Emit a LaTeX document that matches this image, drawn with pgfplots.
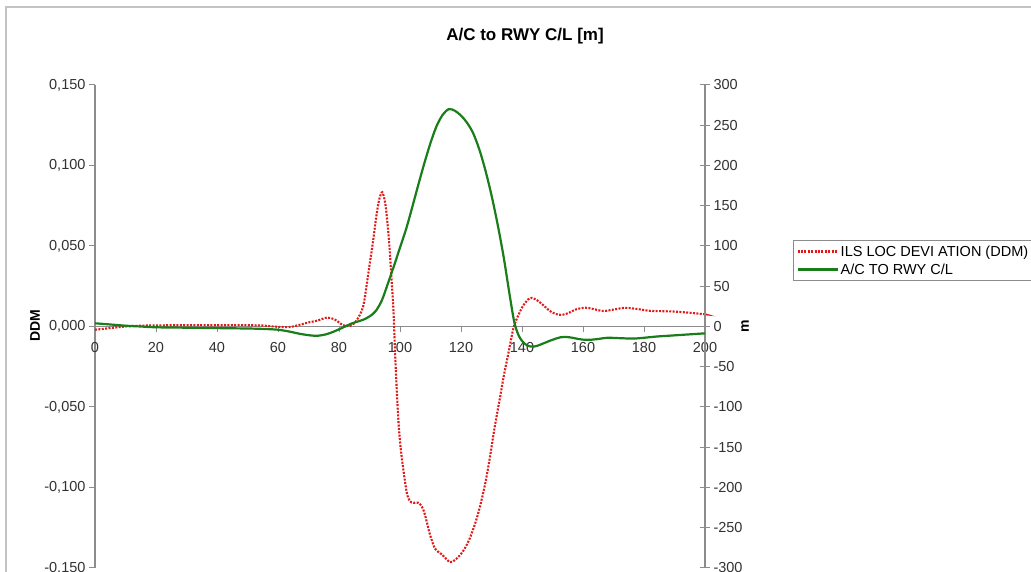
\documentclass[border=0pt]{standalone}
\usepackage{fontspec}
\setmainfont{Liberation Sans}
\usepackage{pgfplots}
\pgfplotsset{compat=1.18}
\definecolor{myred}{RGB}{225,25,25}
\definecolor{mygreen}{RGB}{25,125,25}
\definecolor{axgray}{RGB}{140,140,140}
\definecolor{framegray}{RGB}{195,195,195}
\definecolor{txt}{RGB}{50,50,50}
\begin{document}
\begin{tikzpicture}[x=1pt,y=1pt]
\useasboundingbox (0,0) rectangle (1031,572);
\clip (0,0) rectangle (1031,572);
\draw[framegray, line width=1.5pt] (6,-10) -- (6,565) -- (1040,565);
\node[font=\fontsize{17}{20}\selectfont\bfseries, text=black] at (525,536) {A/C to RWY C/L [m]};
\node[rotate=90, font=\fontsize{14}{16}\selectfont\bfseries, text=black] at (35,246) {DDM};
\node[rotate=90, font=\fontsize{14}{16}\selectfont\bfseries, text=black] at (745,246) {m};

\begin{axis}[
  at={(95pt,4pt)}, anchor=south west,
  width=610pt, height=483pt, scale only axis,
  xmin=0, xmax=200, ymin=-0.15, ymax=0.15,
  axis x line=middle, axis y line=left,
  axis line style={axgray, line width=1.2pt, -},
  hide obscured x ticks=false,
  xtick={0,20,40,60,80,100,120,140,160,180,200},
  ytick={-0.15,-0.1,-0.05,0,0.05,0.1,0.15},
  tick align=outside,
  major tick length=6pt,
  every tick/.style={axgray, line width=1pt},
  tick label style={font=\fontsize{14.5}{17}\selectfont, text=txt},
  /pgf/number format/assume math mode=true,
  yticklabel style={/pgf/number format/.cd, fixed, fixed zerofill, precision=3, use comma},
  xticklabel style={yshift=-6pt, /pgf/number format/.cd, 1000 sep={}},
  clip=false,
]
\addplot[myred, line width=2.1pt, dash pattern=on 2pt off 1.4pt, smooth] coordinates {
(0,-0.002)(5,-0.001)(10,0)(15,0.0005)(20,0.0007)(30,0.0008)(40,0.0008)(50,0.0008)(55,0.0006)(58,0.0001)(61,-0.0003)(64,-0.0003)(67,0.001)(70,0.0025)(73,0.0037)(76,0.0055)(78.5,0.0045)(80.5,0.0018)(82,0.0004)(83.5,0.0003)(85,0.002)(86.5,0.006)(88,0.013)(89,0.025)(90,0.038)(91.2,0.0534)(92.2,0.068)(93.2,0.079)(94.2,0.0834)(95.2,0.076)(96,0.062)(96.6,0.048)(97.2,0.03)(97.8,0.012)(98.4,-0.017)(99,-0.042)(99.6,-0.062)(100.3,-0.077)(101.1,-0.089)(102.2,-0.103)(103.2,-0.1085)(104.5,-0.1095)(106,-0.1095)(107.2,-0.112)(108.2,-0.117)(109.8,-0.129)(111.5,-0.138)(113.7,-0.1415)(116.4,-0.1464)(118,-0.145)(119.7,-0.142)(121.5,-0.137)(123,-0.131)(124.7,-0.122)(126.2,-0.112)(128,-0.097)(129.5,-0.081)(131,-0.063)(132.8,-0.044)(134.2,-0.029)(135.5,-0.017)(137.2,-0.001)(138.8,0.007)(140.4,0.013)(142,0.0168)(143.2,0.0178)(145,0.0162)(147,0.0132)(149,0.0098)(151,0.0078)(153,0.0072)(155,0.0082)(157.5,0.0105)(160.7,0.0117)(163.5,0.0108)(166.7,0.0096)(170,0.0105)(173.8,0.0116)(178,0.0108)(182,0.0097)(186,0.0095)(189.6,0.0093)(194,0.0087)(199.4,0.0077)(200,0.0076)
};
\end{axis}

\begin{axis}[
  at={(95pt,4pt)}, anchor=south west,
  width=610pt, height=483pt, scale only axis,
  xmin=0, xmax=200, ymin=-300, ymax=300,
  axis x line=none, axis y line*=right,
  axis line style={axgray, line width=1.2pt, -},
  ytick={-300,-250,-200,-150,-100,-50,0,50,100,150,200,250,300},
  tick align=center,
  major tick length=10pt,
  every tick/.style={axgray, line width=1pt},
  tick label style={font=\fontsize{14.5}{17}\selectfont, text=txt},
  /pgf/number format/assume math mode=true,
  clip=false,
  legend image code/.code={\draw[#1] (0pt,0pt) -- (40pt,0pt);},
  legend cell align=left,
  legend style={at={(axis description cs:1.1443,0.679)}, anchor=north west,
    draw=axgray, line width=1pt, fill=white, font=\fontsize{14.5}{17}\selectfont, text=black,
    inner sep=3pt, row sep=2pt, nodes={inner sep=2pt}},
]
\addlegendimage{myred, line width=2.1pt, dash pattern=on 2pt off 1.4pt}
\addlegendentry{ILS LOC DEVI ATION (DDM)}
\addplot[mygreen, line width=2.2pt, smooth] coordinates {
(0,4)(5,2.5)(10,1)(15,0)(20,-1)(30,-1.5)(40,-2)(50,-2.5)(55,-3)(60,-4)(64,-6.5)(67,-9)(70.5,-11)(73,-11.5)(76,-9.5)(78.5,-6)(80.3,-3)(82,0)(84,3.5)(86,6)(88,8.5)(90,12.5)(92,19)(94,32)(96,53)(98,75)(100,98)(102,121)(104,148)(106,176)(108,203)(110,228)(112,249)(114,263)(116,270)(118,268)(120,262)(122,253)(124,240)(126,220)(128,194)(130,163)(132,127)(134,86)(136,38)(137.5,5)(139,-12)(140.5,-20)(142,-24)(143.5,-25)(145,-24)(147,-21)(150,-16.5)(152.5,-13.5)(154.5,-13)(156.5,-14)(158.5,-15.5)(160.5,-16.5)(162.5,-16.5)(165,-15.5)(168,-14)(172,-14.5)(176.5,-15)(180,-14)(184,-12.5)(188,-11.5)(192,-10.5)(196,-9.5)(200,-8.5)
};
\addlegendentry{A/C TO RWY C/L}
\end{axis}
\end{tikzpicture}
\end{document}
